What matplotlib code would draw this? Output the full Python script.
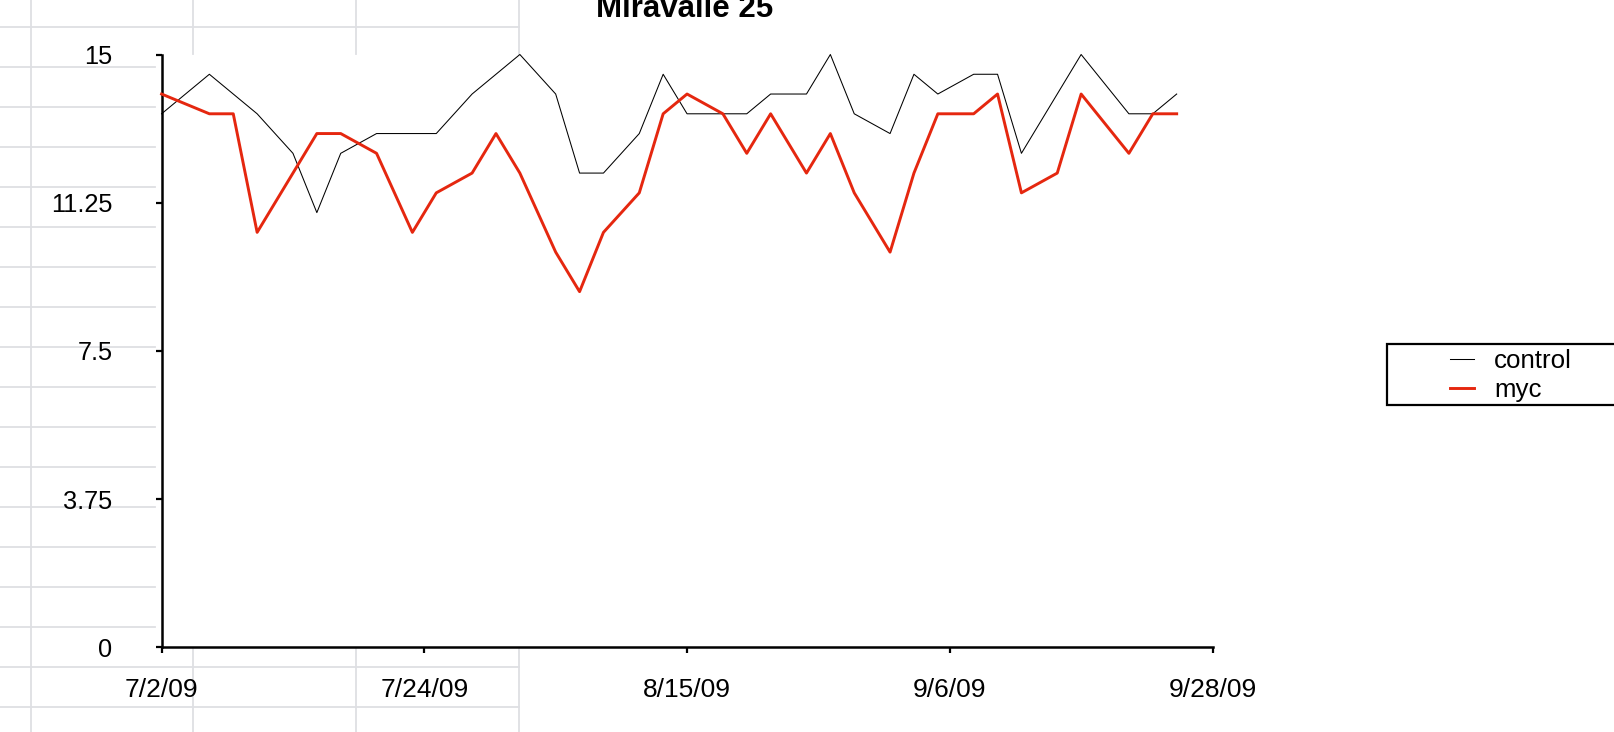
import datetime as dt
import matplotlib
matplotlib.use("Agg")
import matplotlib.pyplot as plt
from matplotlib.lines import Line2D
from matplotlib.patches import Rectangle

# ---------------- data ----------------
control_dates = ["2009-07-02", "2009-07-06", "2009-07-10", "2009-07-13", "2009-07-15",
                 "2009-07-17", "2009-07-20", "2009-07-25", "2009-07-28", "2009-08-01",
                 "2009-08-04", "2009-08-06", "2009-08-08", "2009-08-11", "2009-08-13",
                 "2009-08-15", "2009-08-20", "2009-08-22", "2009-08-25", "2009-08-27",
                 "2009-08-29", "2009-09-01", "2009-09-03", "2009-09-05", "2009-09-08",
                 "2009-09-10", "2009-09-12", "2009-09-17", "2009-09-21", "2009-09-23",
                 "2009-09-25"]
control_values = [13.5, 14.5, 13.5, 12.5, 11.0, 12.5, 13.0, 13.0, 14.0, 15.0,
                  14.0, 12.0, 12.0, 13.0, 14.5, 13.5, 13.5, 14.0, 14.0, 15.0,
                  13.5, 13.0, 14.5, 14.0, 14.5, 14.5, 12.5, 15.0, 13.5, 13.5,
                  14.0]

myc_dates = ["2009-07-02", "2009-07-06", "2009-07-08", "2009-07-10", "2009-07-15",
             "2009-07-17", "2009-07-20", "2009-07-23", "2009-07-25", "2009-07-28",
             "2009-07-30", "2009-08-01", "2009-08-04", "2009-08-06", "2009-08-08",
             "2009-08-11", "2009-08-13", "2009-08-15", "2009-08-18", "2009-08-20",
             "2009-08-22", "2009-08-25", "2009-08-27", "2009-08-29", "2009-09-01",
             "2009-09-03", "2009-09-05", "2009-09-08", "2009-09-10", "2009-09-12",
             "2009-09-15", "2009-09-17", "2009-09-21", "2009-09-23", "2009-09-25"]
myc_values = [14.0, 13.5, 13.5, 10.5, 13.0, 13.0, 12.5, 10.5, 11.5, 12.0,
              13.0, 12.0, 10.0, 9.0, 10.5, 11.5, 13.5, 14.0, 13.5, 12.5,
              13.5, 12.0, 13.0, 11.5, 10.0, 12.0, 13.5, 13.5, 14.0, 11.5,
              12.0, 14.0, 12.5, 13.5, 13.5]

series_labels = ["control", "myc"]
title = "Miravalle 25"
x_tick_dates = ["2009-07-02", "2009-07-24", "2009-08-15", "2009-09-06", "2009-09-28"]
x_tick_labels = ["7/2/09", "7/24/09", "8/15/09", "9/6/09", "9/28/09"]
y_tick_values = [0, 3.75, 7.5, 11.25, 15]
y_tick_labels = ["0", "3.75", "7.5", "11.25", "15"]

# ---------------- figure ----------------
W, H = 1614, 732
DPI = 100
plt.rcParams["font.family"] = ["Liberation Sans", "DejaVu Sans"]
fig = plt.figure(figsize=(W / DPI, H / DPI), dpi=DPI, facecolor="white")


def fx(px):
    return px / W


def fy(py):
    return 1 - py / H


# spreadsheet background grid
gcol = "#dedfe3"
glw = 1.3


def gline(x0, x1, y0, y1):
    fig.add_artist(Line2D([fx(x0), fx(x1)], [fy(y0), fy(y1)], color=gcol, lw=glw,
                          transform=fig.transFigure, zorder=-5))


gline(30.6, 30.6, 0, H)
for gx in (193.2, 356.0, 518.6):
    gline(gx, gx, 0, 54)
    gline(gx, gx, 648, H)
for k in range(18):
    gy = 26.7 + 40.0 * k
    if gy < 54 or gy > 648:
        gline(0, 518.6, gy, gy)
    else:
        gline(0, 155, gy, gy)

# legend frame (extends past the right edge), behind the axes content
fig.add_artist(Rectangle((fx(1387.3), fy(405.3)), fx(1750 - 1387.3), (405.3 - 344) / H,
                         transform=fig.transFigure, facecolor="white", edgecolor="black",
                         lw=1.6, zorder=-1))

# axes
ax_left, ax_right = 161.6, 1212.5
ax_top, ax_bottom = 54.5, 647.4
ax = fig.add_axes([fx(ax_left), fy(ax_bottom), fx(ax_right - ax_left), (ax_bottom - ax_top) / H])
ax.set_facecolor("white")

cd = [dt.datetime.strptime(d, "%Y-%m-%d") for d in control_dates]
md = [dt.datetime.strptime(d, "%Y-%m-%d") for d in myc_dates]
l1, = ax.plot(cd, control_values, color="black", lw=0.75, label=series_labels[0],
              clip_on=False, zorder=3)
l2, = ax.plot(md, myc_values, color="#e5270f", lw=2.1, label=series_labels[1],
              clip_on=False, zorder=4)

xt = [dt.datetime.strptime(d, "%Y-%m-%d") for d in x_tick_dates]
ax.set_xlim(xt[0], xt[-1])
ax.set_ylim(y_tick_values[0], y_tick_values[-1])
ax.set_xticks(xt)
ax.set_xticklabels(x_tick_labels)
ax.set_yticks(y_tick_values)
ax.set_yticklabels(y_tick_labels)

for s in ("top", "right"):
    ax.spines[s].set_visible(False)
for s in ("left", "bottom"):
    ax.spines[s].set_linewidth(1.8)
    ax.spines[s].set_color("black")

ax.tick_params(axis="x", direction="out", length=4.3, width=1.6, labelsize=19, pad=18)
ax.tick_params(axis="y", direction="out", length=4.3, width=1.6, labelsize=18.3, pad=31)

# title
fig.text(fx(685), fy(17.3), title, ha="center", va="baseline", fontsize=22.5,
         fontweight="bold")

leg = ax.legend([l1, l2], series_labels, loc="upper left",
                bbox_to_anchor=(fx(1450), fy(349)), bbox_transform=fig.transFigure,
                frameon=False, borderpad=0, borderaxespad=0, handlelength=0.93,
                handletextpad=0.78, labelspacing=0.2, fontsize=18.6)
leg.set_zorder(6)

fig.savefig("out.png", dpi=DPI, facecolor="white")
